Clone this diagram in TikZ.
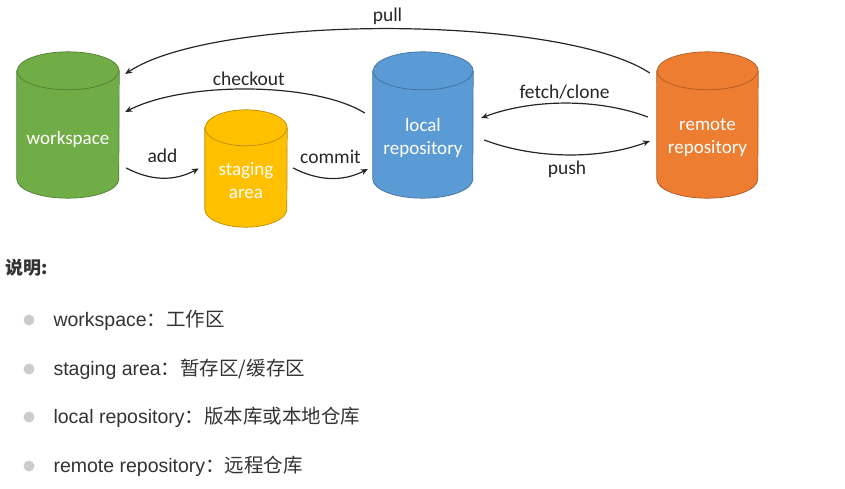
\documentclass[tikz,border=0pt]{standalone}
\usepackage{fontspec}
\setmainfont{Carlito}
\newfontfamily\listfont{Liberation Sans}
\newfontfamily\cjk{Noto Sans CJK SC}
\usepackage{tikz}
\usetikzlibrary{arrows.meta}

\definecolor{fillws}{HTML}{70AD47}
\definecolor{edgews}{HTML}{507E32}
\definecolor{fillsa}{HTML}{FFC000}
\definecolor{edgesa}{HTML}{BC8C00}
\definecolor{filllr}{HTML}{5B9BD5}
\definecolor{edgelr}{HTML}{41719C}
\definecolor{fillrr}{HTML}{ED7D31}
\definecolor{edgerr}{HTML}{AE5A21}

\begin{document}
\begin{tikzpicture}[x=1pt,y=1pt,
            tank/.style={shape=rectangle, inner sep=0pt},
            tanktext/.style={text=white, align=center, font=\fontsize{19}{23}\selectfont},
            cmd/.style={font=\fontsize{19.5}{22}\selectfont, text=black!85},
            flow/.style={->, line width=1.2pt, draw=black!85},
            >={Stealth[length=7pt,width=6pt]},
            bullet/.style={shape=circle, fill=black!20, inner sep=0pt, minimum size=11pt},
            item/.style={anchor=west, text=black!80, font=\listfont\fontsize{19.5}{23}\selectfont}]
        \useasboundingbox (0,0) rectangle (845,488);

        % outline boxes of the four stores
        \node[tank, minimum width=102pt, minimum height=146pt] (ws) at (68,363) {};
        \node[tank, minimum width=82pt, minimum height=117pt] (sa) at (246,319.5) {};
        \node[tank, minimum width=100pt, minimum height=146pt] (lr) at (423,363) {};
        \node[tank, minimum width=101pt, minimum height=146pt] (rr) at (707.5,363) {};

        \foreach \n/\rx/\ry in {ws/51/19, sa/41/18, lr/50/19, rr/50.5/19} {
            \draw[draw=edge\n, fill=fill\n, line width=0.7pt] ([yshift=-\ry pt]\n.north west) -- ([yshift=\ry pt]\n.south west)
                arc[start angle=180, end angle=360, x radius=\rx, y radius=\ry] -- ([yshift=-\ry pt]\n.north east)
                arc[start angle=0, end angle=180, x radius=\rx, y radius=\ry] -- cycle;
            \draw[draw=edge\n, line width=0.7pt] ([yshift=-\ry pt]\n.north west) arc[start angle=180, end angle=360, x radius=\rx, y radius=\ry];
        }

        \node[tanktext] (ws text) at ([yshift=-14pt]ws.center) {workspace};
        \node[tanktext] (sa text) at ([yshift=-12pt]sa.center) {staging\\area};
        \node[tanktext] (lr text) at ([yshift=-13pt]lr.center) {local\\repository};
        \node[tanktext] (rr text) at ([yshift=-13pt]rr.center) {remote\\repository};

        \draw[flow] ([shift={(-7,52)}]rr.west) .. controls +(-90,59) and +(90,60) .. ([shift={(6,51)}]ws.east) node[cmd, midway, above] {pull};
        \draw[flow] ([shift={(-8,12)}]lr.west) .. controls +(-50,31) and +(60,31) .. ([shift={(6,13)}]ws.east) node[cmd, midway, above] {checkout};
        \draw[flow] ([shift={(7,-43)}]ws.east) .. controls +(25,-13) and +(-25,-13) .. ([shift={(-6,0)}]sa.west) node[cmd, midway, above=11pt] {add};
        \draw[flow] ([shift={(6,0.5)}]sa.east) .. controls +(25,-13) and +(-25,-13) .. ([shift={(-5,-44)}]lr.west) node[cmd, midway, above=11pt] {commit};
        \draw[flow] ([shift={(-9,8)}]rr.west) .. controls +(-50,19) and +(50,19) .. ([shift={(8,7)}]lr.east) node[cmd, midway, above] {fetch/clone};
        \draw[flow] ([shift={(11,-15)}]lr.east) .. controls +(50,-19) and +(-50,-19) .. ([shift={(-7,-16)}]rr.west) node[cmd, midway, below=2pt] {push};

        \node[anchor=west, text=black!80, font=\cjk\bfseries\fontsize{18}{22}\selectfont] (note) at (2,220) {说明:};

        \node[bullet] (b1) at (29,168) {};
        \node[item] (i1) at (50,168) {workspace{\cjk ：工作区}};
        \node[bullet] (b2) at (29,119) {};
        \node[item] (i2) at (50,119) {staging area{\cjk ：暂存区/缓存区}};
        \node[bullet] (b3) at (29,71) {};
        \node[item] (i3) at (50,71) {local repository{\cjk ：版本库或本地仓库}};
        \node[bullet] (b4) at (29,22) {};
        \node[item] (i4) at (50,22) {remote repository{\cjk ：远程仓库}};
    \end{tikzpicture}
\end{document}
